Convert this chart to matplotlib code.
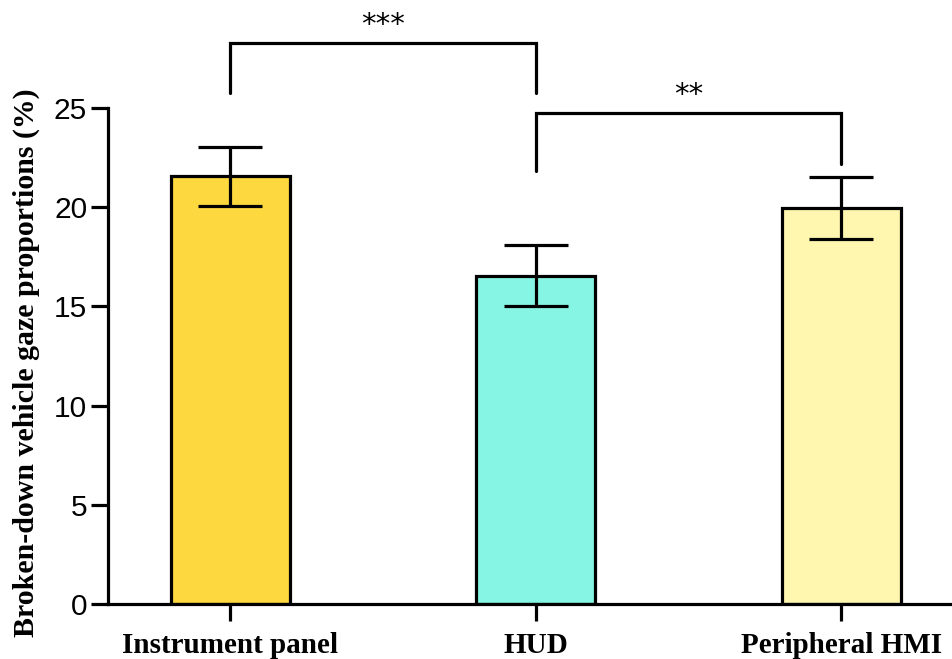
import matplotlib
matplotlib.use("Agg")
import matplotlib.pyplot as plt

categories = ["Instrument panel", "HUD", "Peripheral HMI"]
means = [21.55, 16.55, 19.95]
errors = [1.5, 1.55, 1.55]
colors = ["#FDD93F", "#87F5E3", "#FFF7B0"]
yticks = [0, 5, 10, 15, 20, 25]
sig_pairs = [(0, 1, 28.3, 25.75, 25.75, "***"), (1, 2, 24.75, 21.8, 22.2, "**")]

W, H = 952, 659
fig = plt.figure(figsize=(W / 100, H / 100), dpi=100)
ax = fig.add_axes([108 / W, (H - 604) / H, 1 - 108 / W, (604 - 108) / H])

lw = 2.3
x = list(range(len(categories)))
ax.bar(x, means, width=0.39, color=colors, edgecolor="black", linewidth=lw, zorder=2)
ax.errorbar(x, means, yerr=errors, fmt="none", ecolor="black", elinewidth=lw,
            capsize=23, capthick=lw, zorder=3)

ax.set_xlim(-0.40, 2.363)
ax.set_ylim(0, 25)
ax.set_yticks(yticks)
ax.set_xticks(x)
ax.set_xticklabels(categories, fontfamily="Liberation Serif", fontweight="bold", fontsize=21)
for lab in ax.get_yticklabels():
    lab.set_fontfamily("Liberation Sans")
    lab.set_fontsize(21.5)
ax.tick_params(axis="both", width=lw, length=12, color="black")
ax.tick_params(axis="y", pad=3)
ax.tick_params(axis="x", pad=8)
for s in ["top", "right"]:
    ax.spines[s].set_visible(False)
for s in ["left", "bottom"]:
    ax.spines[s].set_linewidth(lw)

ax.set_ylabel("Broken-down vehicle gaze proportions (%)", fontfamily="Liberation Serif",
              fontweight="bold", fontsize=21.5)
ax.yaxis.set_label_coords(-0.080, 0.486)

for a, b, ytop, ya, yb, txt in sig_pairs:
    ax.plot([a, a, b, b], [ya, ytop, ytop, yb], color="black", lw=lw, clip_on=False,
            solid_capstyle="round", solid_joinstyle="miter")
    ax.text((a + b) / 2, ytop + 0.2, txt, ha="center", va="bottom", fontsize=21,
            fontfamily="DejaVu Sans", clip_on=False)

fig.savefig("out.png", dpi=100)
